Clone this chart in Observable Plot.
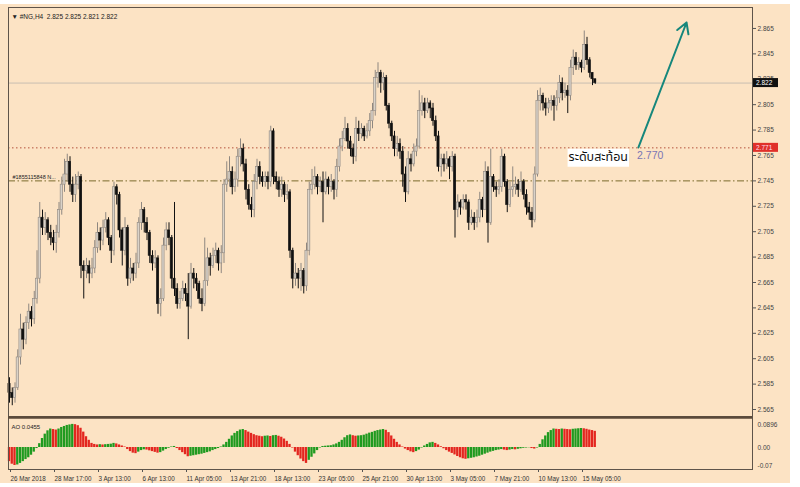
<!DOCTYPE html>
<html><head><meta charset="utf-8">
<script src="https://cdn.jsdelivr.net/npm/d3@7"></script>
<script src="https://cdn.jsdelivr.net/npm/@observablehq/plot@0.6"></script>
<style>
html,body{margin:0;padding:0;background:#fff;}
#wrap{position:relative;width:800px;height:487px;overflow:hidden;background:#fff;}
#bg{position:absolute;left:0;top:4px;width:790px;height:479px;background:#FCE3C4;}
#main,#ao{position:absolute;left:0;}
#main{top:0px}
#ao{top:416px}
</style></head><body>
<div id="wrap"><div id="bg"></div><div id="main"></div><div id="ao"></div></div>
<script>
// ---- data (NG, H4) ----
const firstOpen = 2.585;
const closes = [
2.578,2.574,2.582,2.606,2.628,2.620,2.633,2.642,2.636,2.652,
2.668,2.716,2.708,2.714,2.704,2.700,2.696,2.704,2.722,2.742,
2.750,2.760,2.742,2.734,2.742,2.748,2.678,2.674,2.678,2.672,
2.676,2.692,2.704,2.698,2.708,2.714,2.700,2.690,2.740,2.734,
2.706,2.690,2.708,2.668,2.676,2.672,2.680,2.712,2.722,2.712,
2.704,2.686,2.680,2.684,2.648,2.652,2.694,2.706,2.700,2.668,
2.660,2.648,2.652,2.660,2.656,2.646,2.672,2.668,2.664,2.652,
2.648,2.666,2.684,2.678,2.686,2.690,2.680,2.688,2.742,2.746,
2.752,2.740,2.746,2.764,2.770,2.758,2.738,2.726,2.722,2.744,
2.756,2.748,2.744,2.748,2.744,2.784,2.748,2.744,2.738,2.742,
2.734,2.736,2.690,2.668,2.672,2.668,2.674,2.662,2.690,2.738,
2.742,2.748,2.740,2.744,2.736,2.746,2.740,2.744,2.738,2.756,
2.772,2.778,2.786,2.776,2.770,2.764,2.786,2.782,2.786,2.780,
2.784,2.792,2.800,2.826,2.830,2.822,2.826,2.804,2.790,2.780,
2.770,2.774,2.768,2.750,2.736,2.762,2.758,2.768,2.772,2.800,
2.806,2.800,2.806,2.802,2.792,2.780,2.756,2.762,2.758,2.762,
2.756,2.764,2.722,2.728,2.724,2.730,2.728,2.712,2.716,2.712,
2.716,2.730,2.722,2.752,2.712,2.748,2.740,2.738,2.740,2.764,
2.744,2.726,2.738,2.740,2.742,2.738,2.744,2.734,2.724,2.720,
2.714,2.750,2.808,2.812,2.806,2.802,2.806,2.808,2.804,2.810,
2.822,2.814,2.816,2.812,2.834,2.842,2.836,2.838,2.834,2.852,
2.840,2.830,2.825,2.822];
const highs = [
2.590,2.582,2.586,2.612,2.640,2.633,2.638,2.648,2.646,2.658,
2.690,2.728,2.722,2.720,2.716,2.710,2.706,2.710,2.728,2.748,
2.762,2.766,2.764,2.748,2.750,2.752,2.750,2.682,2.684,2.682,
2.684,2.698,2.712,2.708,2.714,2.720,2.716,2.702,2.744,2.742,
2.736,2.708,2.716,2.710,2.684,2.680,2.688,2.716,2.728,2.724,
2.716,2.706,2.690,2.690,2.686,2.660,2.700,2.712,2.712,2.702,
2.728,2.664,2.658,2.666,2.664,2.672,2.680,2.676,2.672,2.666,
2.660,2.700,2.692,2.688,2.692,2.696,2.692,2.694,2.746,2.760,
2.764,2.756,2.752,2.770,2.778,2.774,2.762,2.742,2.732,2.750,
2.762,2.760,2.752,2.752,2.752,2.788,2.786,2.752,2.748,2.748,
2.744,2.742,2.738,2.692,2.680,2.676,2.680,2.676,2.696,2.744,
2.754,2.756,2.750,2.748,2.752,2.752,2.748,2.750,2.746,2.762,
2.778,2.784,2.795,2.790,2.780,2.774,2.795,2.792,2.790,2.788,
2.790,2.798,2.806,2.832,2.838,2.832,2.830,2.828,2.806,2.792,
2.784,2.780,2.778,2.772,2.756,2.768,2.766,2.774,2.778,2.816,
2.812,2.810,2.810,2.808,2.806,2.796,2.784,2.766,2.766,2.768,
2.764,2.768,2.766,2.734,2.730,2.734,2.734,2.730,2.722,2.720,
2.722,2.736,2.732,2.760,2.756,2.770,2.750,2.744,2.746,2.770,
2.766,2.746,2.744,2.756,2.748,2.746,2.752,2.746,2.738,2.728,
2.724,2.756,2.816,2.818,2.814,2.810,2.810,2.812,2.812,2.816,
2.828,2.826,2.822,2.820,2.840,2.848,2.846,2.842,2.840,2.863,
2.858,2.842,2.830,2.825];
const lows = [
2.570,2.568,2.570,2.580,2.600,2.612,2.616,2.628,2.630,2.632,
2.648,2.664,2.702,2.702,2.698,2.694,2.690,2.688,2.700,2.718,
2.736,2.744,2.736,2.728,2.728,2.738,2.668,2.652,2.668,2.664,
2.668,2.672,2.688,2.690,2.694,2.704,2.694,2.680,2.686,2.726,
2.700,2.678,2.686,2.662,2.664,2.666,2.668,2.676,2.706,2.704,
2.698,2.680,2.674,2.676,2.640,2.638,2.650,2.690,2.694,2.660,
2.654,2.644,2.644,2.650,2.650,2.620,2.644,2.660,2.658,2.648,
2.642,2.646,2.662,2.670,2.676,2.680,2.674,2.672,2.680,2.736,
2.740,2.734,2.736,2.740,2.756,2.752,2.730,2.722,2.716,2.716,
2.738,2.742,2.740,2.740,2.738,2.740,2.742,2.738,2.732,2.732,
2.728,2.730,2.684,2.660,2.662,2.660,2.658,2.656,2.658,2.686,
2.734,2.738,2.734,2.736,2.712,2.734,2.734,2.736,2.730,2.732,
2.752,2.768,2.776,2.770,2.764,2.758,2.760,2.776,2.778,2.776,
2.778,2.780,2.786,2.796,2.818,2.814,2.816,2.800,2.786,2.776,
2.764,2.764,2.762,2.740,2.728,2.734,2.752,2.756,2.764,2.770,
2.796,2.794,2.798,2.794,2.788,2.776,2.752,2.748,2.752,2.754,
2.746,2.752,2.700,2.716,2.718,2.722,2.722,2.706,2.710,2.706,
2.708,2.712,2.716,2.722,2.696,2.710,2.736,2.732,2.734,2.736,
2.740,2.720,2.724,2.732,2.734,2.732,2.736,2.730,2.718,2.714,
2.708,2.712,2.748,2.800,2.800,2.796,2.798,2.800,2.792,2.800,
2.806,2.808,2.810,2.798,2.808,2.828,2.832,2.832,2.830,2.832,
2.836,2.826,2.820,2.821];
const aoValues = [
-0.055,-0.065,-0.070,-0.068,-0.062,-0.055,-0.047,-0.040,-0.030,-0.018,
-0.004,0.015,0.035,0.052,0.065,0.072,0.070,0.068,0.072,0.078,
0.082,0.086,0.088,0.090,0.089,0.085,0.075,0.060,0.042,0.028,
0.016,0.012,0.010,0.011,0.010,0.011,0.012,0.013,0.016,0.014,
0.010,0.006,0.002,-0.008,-0.016,-0.022,-0.024,-0.018,-0.012,-0.009,
-0.010,-0.013,-0.016,-0.019,-0.022,-0.020,-0.014,-0.008,-0.003,0.002,
0.004,-0.004,-0.012,-0.020,-0.028,-0.036,-0.034,-0.032,-0.030,-0.028,
-0.026,-0.023,-0.020,-0.017,-0.012,-0.008,-0.004,0.002,0.010,0.020,
0.032,0.045,0.055,0.062,0.068,0.070,0.066,0.060,0.055,0.050,
0.046,0.044,0.042,0.044,0.045,0.043,0.046,0.047,0.044,0.040,
0.033,0.024,0.012,-0.002,-0.018,-0.032,-0.045,-0.055,-0.062,-0.050,
-0.038,-0.025,-0.012,-0.002,0.004,0.005,0.006,0.007,0.010,0.014,
0.020,0.028,0.038,0.046,0.049,0.046,0.044,0.045,0.046,0.048,
0.052,0.056,0.059,0.063,0.066,0.068,0.070,0.067,0.058,0.045,
0.032,0.020,0.010,0.002,-0.006,-0.012,-0.017,-0.020,-0.016,-0.010,
-0.002,0.006,0.012,0.018,0.020,0.016,0.010,0.003,-0.005,-0.012,
-0.018,-0.023,-0.029,-0.035,-0.040,-0.044,-0.046,-0.044,-0.042,-0.040,
-0.037,-0.034,-0.030,-0.026,-0.022,-0.018,-0.015,-0.012,-0.010,-0.008,
-0.010,-0.012,-0.010,-0.008,-0.009,-0.007,-0.005,-0.003,-0.002,-0.001,
-0.004,-0.006,-0.002,0.012,0.030,0.045,0.058,0.066,0.072,0.071,
0.070,0.072,0.071,0.070,0.069,0.071,0.072,0.073,0.074,0.073,
0.071,0.068,0.066,0.063];
const priceTicks = [2.565,2.585,2.605,2.625,2.645,2.665,2.685,2.705,2.725,2.745,2.765,2.785,2.805,2.825,2.845,2.865];
const aoTicks = [0.0896, 0, -0.07];
const aoTickLabels = ["0.0896", "0.00", "-0.07"];
const timeTickIndex = [0,16,32,48,64,80,96,112,128,144,160,176,192,208];
const timeTickLabels = ["26 Mar 2018","28 Mar 17:00","3 Apr 13:00","6 Apr 13:00","11 Apr 05:00","13 Apr 21:00","18 Apr 13:00","23 Apr 05:00","25 Apr 21:00","30 Apr 13:00","3 May 05:00","7 May 21:00","10 May 13:00","15 May 05:00"];
const titleText = "\u25BC #NG,H4  2.825 2.825 2.821 2.822";
const bidPrice = 2.822;
const resistancePrice = 2.771;
const orderPrice = 2.745;
const orderLabel = "#1855115848 N...";
const aoLabel = "AO 0.0455";
const noteText = ["ระดับสะท้อน"];
const noteValue = ["2.770"];
const noteAt = [{i: 203.3, p: 2.7640}];
const noteValueAt = [{i: 228.2, p: 2.7648}];
const arrowSeg = [{i1: 228.7, p1: 2.7713, i2: 246.2, p2: 2.8697}];

// ---- build ----
const bars = closes.map((c, i) => ({i, open: i === 0 ? firstOpen : closes[i-1], close: c, high: highs[i], low: lows[i]}));
const isUp = d => d.close >= d.open;
const xDomain = [-0.364, 270.18];
const priceDomain = [2.5595, 2.8815];
const aoDomain = [-0.0857, 0.1169];
const aoData = aoValues.map((v, i) => ({i, v, rising: i > 0 && v > aoValues[i-1]}));
const tickMap = new Map(timeTickIndex.map((d, k) => [d, timeTickLabels[k]]));
const aoLabelMap = new Map(aoTicks.map((d, k) => [d, aoTickLabels[k]]));
const font = "Liberation Sans, Arial, sans-serif";

const main = Plot.plot({
  width: 800, height: 417,
  marginLeft: 8, marginRight: 48, marginTop: 7, marginBottom: 1,
  style: {background: "transparent", fontFamily: font, color: "#333"},
  x: {domain: xDomain, axis: null},
  y: {domain: priceDomain, axis: null},
  marks: [
    Plot.ruleY([bidPrice], {stroke: "#c9beb2", strokeWidth: 1}),
    Plot.ruleY([resistancePrice], {stroke: "#b4533c", strokeWidth: 1, strokeDasharray: "1.5,2.5"}),
    Plot.ruleY([orderPrice], {stroke: "#7b6a2c", strokeWidth: 1, strokeDasharray: "7,2.5,1.5,2.5"}),
    Plot.ruleX(bars, {x: "i", y1: "low", y2: "high", stroke: d => isUp(d) ? "#8e8780" : "#111", strokeWidth: 1}),
    Plot.rect(bars, {
      x1: d => d.i - 0.4, x2: d => d.i + 0.4,
      y1: "open", y2: d => Math.abs(d.close - d.open) < 0.0006 ? d.open + 0.0008 : d.close,
      fill: d => isUp(d) ? "#d9d2c8" : "#111",
      stroke: d => isUp(d) ? "#8e8780" : "#111", strokeWidth: 0.6
    }),
    Plot.axisY(priceTicks, {anchor: "right", label: null, tickSize: 3, tickPadding: 2, fontSize: 6.5, tickFormat: d3.format(".3f"), stroke: "#555", fill: "#444"}),
    Plot.frame({stroke: "#5e544a", strokeWidth: 1}),
    Plot.text([titleText], {frameAnchor: "top-left", dx: 3, dy: 7, fontSize: 6.5, textAnchor: "start", fill: "#222"}),
    Plot.text([orderPrice], {y: d => d, text: () => orderLabel, frameAnchor: "left", dx: 4, dy: -4, fontSize: 5.5, textAnchor: "start", fill: "#222"}),
    Plot.arrow(arrowSeg, {x1: "i1", y1: "p1", x2: "i2", y2: "p2", stroke: "#16877c", strokeWidth: 2, headLength: 9}),
    Plot.text(noteAt, {x: "i", y: "p", text: () => noteText[0], fontSize: 12.5, textAnchor: "start", fill: "#111", fontFamily: "Noto Sans Thai, Noto Sans, DejaVu Sans, sans-serif"}),
    Plot.text(noteValueAt, {x: "i", y: "p", text: () => noteValue[0], fontSize: 10.5, textAnchor: "start", fill: "#7a76b4"})
  ]
});
document.getElementById("main").appendChild(main);

// white box behind note
{
  const t = Array.from(main.querySelectorAll("text")).find(e => e.textContent === noteText[0]);
  if (t) {
    const b = t.getBBox();
    const r = document.createElementNS("http://www.w3.org/2000/svg", "rect");
    r.setAttribute("x", b.x - 1); r.setAttribute("y", b.y + 1);
    r.setAttribute("width", b.width + 2); r.setAttribute("height", b.height - 1);
    r.setAttribute("fill", "#fff");
    const tr = t.getAttribute("transform");
    if (tr) r.setAttribute("transform", tr);
    t.parentNode.insertBefore(r, t);
  }
}
// price label boxes on right axis
{
  const ys = main.scale("y"), xs = main.scale("x");
  const xr = xs.range[1] + 1;
  const svg = d3.select(main);
  [[bidPrice, "#111", "#fff"], [resistancePrice, "#e0302a", "#fde"]].forEach(([p, bg, fg]) => {
    const y = ys.apply(p);
    svg.append("rect").attr("x", xr).attr("y", y - 4.5).attr("width", 25).attr("height", 9).attr("fill", bg);
    svg.append("text").attr("x", xr + 3).attr("y", y + 2.3).attr("text-anchor", "start")
      .attr("font-size", 6.5).attr("fill", fg).attr("font-family", font).text(d3.format(".3f")(p));
  });
}

const ao = Plot.plot({
  width: 800, height: 71,
  marginLeft: 8, marginRight: 48, marginTop: 1, marginBottom: 18,
  style: {background: "transparent", fontFamily: font, color: "#333", overflow: "visible"},
  x: {domain: xDomain, axis: null},
  y: {domain: aoDomain, axis: null},
  marks: [
    Plot.rect(aoData, {x1: d => d.i - 0.42, x2: d => d.i + 0.42, y1: 0, y2: "v", fill: d => d.rising ? "#1f9a1f" : "#e3261f"}),
    Plot.axisY(aoTicks, {anchor: "right", label: null, tickSize: 0, tickPadding: 5, fontSize: 6.5, tickFormat: d => aoLabelMap.get(d), fill: "#444"}),
    Plot.axisX(timeTickIndex, {anchor: "bottom", label: null, tickSize: 3, tickPadding: 4, fontSize: 6.3, textAnchor: "start", dx: 1, tickFormat: d => tickMap.get(d), stroke: "#555", fill: "#333"}),
    Plot.frame({stroke: "#5e544a", strokeWidth: 1}),
    Plot.ruleY([aoDomain[1]], {stroke: "#5b4a3a", strokeWidth: 2.5}),
    Plot.text([aoLabel], {frameAnchor: "top-left", dx: 3, dy: 7, fontSize: 6, textAnchor: "start", fill: "#222"})
  ]
});
document.getElementById("ao").appendChild(ao);
</script>
</body></html>
